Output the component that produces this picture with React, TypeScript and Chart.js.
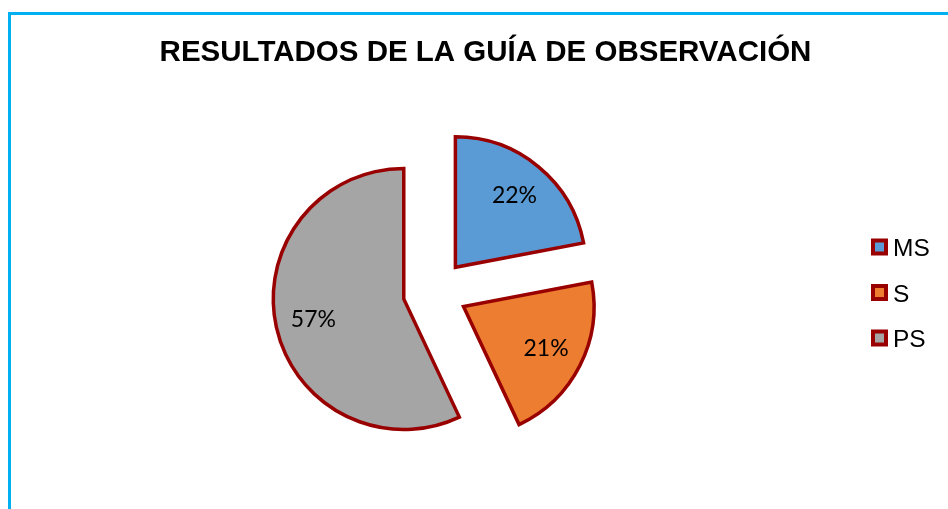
import React, { useEffect, useRef } from "react";
import { Chart, registerables } from "chart.js";

Chart.register(...registerables);

const chartTitle = "RESULTADOS DE LA GUÍA DE OBSERVACIÓN";
const categories = ["MS", "S", "PS"];
const percentages = [22, 21, 57];
const sliceColors = ["#5B9BD5", "#ED7D31", "#A5A5A5"];
const borderColor = "#990000";

const EXPLODE = 32;
const CENTER_X = 435;
const CENTER_Y = 292;
const RADIUS = 130.5;

const explodePlugin = {
  id: "explode",
  afterDatasetsUpdate(chart: any) {
    const meta = chart.getDatasetMeta(0);
    meta.data.forEach((arc: any) => {
      const half = (arc.startAngle + arc.endAngle) / 2;
      arc.x += Math.cos(half) * EXPLODE;
      arc.y += Math.sin(half) * EXPLODE;
    });
  },
};

const decorPlugin = {
  id: "decor",
  afterDraw(chart: any) {
    const ctx = chart.ctx as CanvasRenderingContext2D;
    const meta = chart.getDatasetMeta(0);
    const ds = chart.data.datasets[0];
    ctx.save();
    // percentage labels
    ctx.fillStyle = "#000";
    ctx.font = "23px Lato";
    ctx.textAlign = "center";
    ctx.textBaseline = "middle";
    meta.data.forEach((arc: any, i: number) => {
      const half = (arc.startAngle + arc.endAngle) / 2;
      const d = arc.outerRadius * 0.71;
      ctx.fillText(`${ds.data[i]}%`, arc.x + Math.cos(half) * d, arc.y + Math.sin(half) * d);
    });
    // title
    ctx.font = "bold 29.5px 'Liberation Sans'";
    ctx.textBaseline = "alphabetic";
    ctx.fillText(chartTitle, 485.5, 61);
    // legend
    ctx.textAlign = "left";
    ctx.font = "24.5px 'Liberation Sans'";
    const labels = chart.data.labels as string[];
    labels.forEach((lab, i) => {
      const cy = 247 + i * 45.5;
      ctx.fillStyle = (ds.backgroundColor as string[])[i];
      ctx.fillRect(873, cy - 6.5, 13, 13);
      ctx.lineWidth = 4;
      ctx.strokeStyle = borderColor;
      ctx.strokeRect(873, cy - 6.5, 13, 13);
      ctx.fillStyle = "#000";
      ctx.fillText(lab, 893, cy + 9);
    });
    ctx.restore();
  },
};

export default function App() {
  const ref = useRef<HTMLCanvasElement | null>(null);
  useEffect(() => {
    let chart: Chart | null = null;
    let cancelled = false;
    const build = () => {
      if (cancelled || !ref.current) return;
      chart = new Chart(ref.current, {
        type: "pie",
        data: {
          labels: categories,
          datasets: [
            {
              data: percentages,
              backgroundColor: sliceColors,
              borderColor: borderColor,
              borderWidth: 3.5,
              borderJoinStyle: "miter",
            } as any,
          ],
        },
        options: {
          responsive: false,
          animation: false,
          events: [],
          radius: RADIUS,
          layout: {
            padding: {
              left: CENTER_X - 150,
              right: 948 - (CENTER_X + 150),
              top: CENTER_Y - 150,
              bottom: 509 - (CENTER_Y + 150),
            },
          },
          plugins: {
            legend: { display: false },
            title: { display: false },
            tooltip: { enabled: false },
          },
        } as any,
        plugins: [explodePlugin, decorPlugin],
      });
    };
    Promise.all([
      document.fonts.load("23px Lato"),
      document.fonts.load("bold 29.5px 'Liberation Sans'"),
      document.fonts.load("24.5px 'Liberation Sans'"),
    ])
      .catch(() => null)
      .then(build);
    return () => {
      cancelled = true;
      if (chart) chart.destroy();
    };
  }, []);
  return (
    <div
      style={{
        position: "fixed",
        left: 0,
        top: 0,
        width: 948,
        height: 509,
        overflow: "hidden",
        background: "#fff",
      }}
    >
      <div
        style={{
          position: "absolute",
          left: 8,
          top: 12,
          width: 1200,
          height: 800,
          borderTop: "3px solid #00B0F0",
          borderLeft: "3px solid #00B0F0",
        }}
      />
      <canvas
        ref={ref}
        width={948}
        height={509}
        style={{ position: "absolute", left: 0, top: 0 }}
      />
    </div>
  );
}
